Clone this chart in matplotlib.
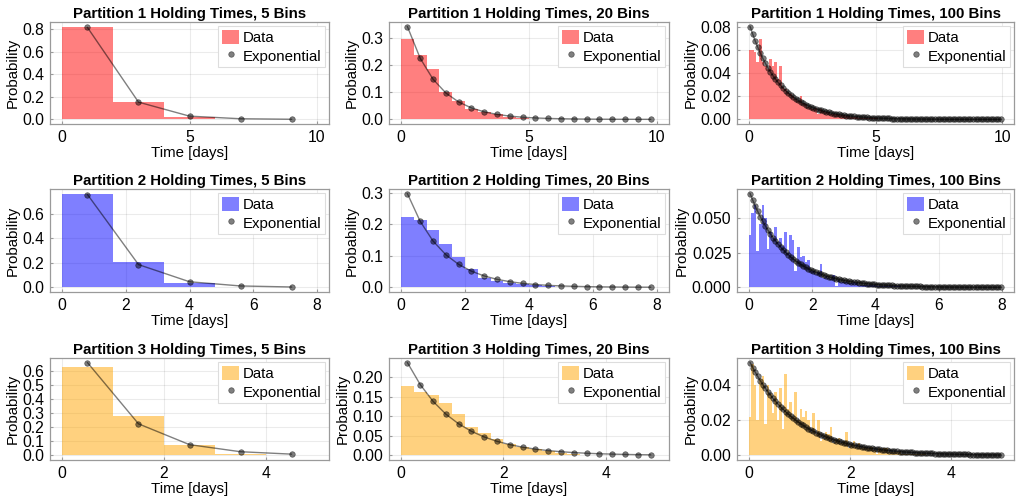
import numpy as np
import matplotlib
matplotlib.use('Agg')
import matplotlib.pyplot as plt

plt.rcParams['font.family'] = ['Liberation Sans', 'DejaVu Sans']

# ---------------- data ----------------
partitions = [1, 2, 3]
bin_counts = [5, 20, 100]
t_max = [10, 8, 5]                     # histogram range upper edge per partition
bar_colors = ['red', 'blue', 'orange']

x_ticks = [[0, 5, 10], [0, 2, 4, 6, 8], [0, 2, 4]]
y_ticks = [
    [[0, 0.2, 0.4, 0.6, 0.8], [0, 0.1, 0.2, 0.3], [0, 0.02, 0.04, 0.06, 0.08]],
    [[0, 0.2, 0.4, 0.6], [0, 0.1, 0.2, 0.3], [0, 0.025, 0.05]],
    [[0, 0.1, 0.2, 0.3, 0.4, 0.5, 0.6], [0, 0.05, 0.10, 0.15, 0.20], [0, 0.02, 0.04]],
]
y_fmt = [["%.1f", "%.1f", "%.2f"], ["%.1f", "%.1f", "%.3f"], ["%.1f", "%.2f", "%.2f"]]

# Partition 1
p1_data_5 = [0.82, 0.153, 0.020, 0.005, 0.001]
p1_exp_5 = [0.8125, 0.1524, 0.0286, 0.0054, 0.0010]
p1_data_20 = [0.295, 0.238, 0.185, 0.100, 0.068, 0.040, 0.027, 0.018, 0.009, 0.006,
              0.003, 0.002, 0.002, 0.0015, 0.001, 0.0005, 0.0005, 0.0003, 0.0002, 0.0]
p1_exp_20 = [0.3420, 0.2250, 0.1481, 0.0974, 0.0641, 0.0422, 0.0278, 0.0183, 0.0120, 0.0079,
             0.0052, 0.0034, 0.0023, 0.0015, 0.0010, 0.0006, 0.0004, 0.0003, 0.0002, 0.0001]
p1_data_100 = [0.060, 0.060, 0.058, 0.050, 0.070, 0.050, 0.046, 0.044, 0.052, 0.046,
               0.050, 0.035, 0.046, 0.028, 0.026, 0.024, 0.022, 0.020, 0.018, 0.016,
               0.020, 0.014, 0.013, 0.011, 0.010, 0.009, 0.010, 0.005, 0.009, 0.007,
               0.006, 0.006, 0.005, 0.005, 0.005, 0.004, 0.004, 0.004, 0.003, 0.003,
               0.002, 0.002, 0.002, 0.0015, 0.0015, 0.0015, 0.0012, 0.0012, 0.0011, 0.001,
               0.0008, 0.0006, 0.0006, 0.0005, 0.0005, 0.0005, 0.0004, 0.0004, 0.0004, 0.0003,
               0.0004, 0.0004, 0.0004, 0.0004, 0.0004, 0.0003, 0.0003, 0.0003, 0.0003, 0.0003,
               0.0002, 0.0002, 0.0002, 0.0002, 0.0002, 0.0001, 0.0001, 0.0001, 0.0001, 0.0001,
               0.0001, 0.0, 0.0001, 0.0, 0.0, 0.0, 0.0, 0.0001, 0.0, 0.0,
               0.0, 0.0, 0.0, 0.0, 0.0, 0.0, 0.0, 0.0, 0.0, 0.0001]
p1_exp_100 = [0.08030, 0.07385, 0.06792, 0.06247, 0.05745, 0.05284, 0.04860, 0.04470, 0.04111, 0.03781,
              0.03477, 0.03198, 0.02941, 0.02705, 0.02488, 0.02288, 0.02104, 0.01935, 0.01780, 0.01637,
              0.01506, 0.01385, 0.01274, 0.01171, 0.01077, 0.00991, 0.00911, 0.00838, 0.00771, 0.00709,
              0.00652, 0.00600, 0.00551, 0.00507, 0.00466, 0.00429, 0.00395, 0.00363, 0.00334, 0.00307,
              0.00282, 0.00260, 0.00239, 0.00220, 0.00202, 0.00186, 0.00171, 0.00157, 0.00144, 0.00133,
              0.00122, 0.00112, 0.00103, 0.00095, 0.00088, 0.00080, 0.00074, 0.00068, 0.00063, 0.00058,
              0.00053, 0.00049, 0.00045, 0.00041, 0.00038, 0.00035, 0.00032, 0.00029, 0.00027, 0.00025,
              0.00023, 0.00021, 0.00019, 0.00018, 0.00016, 0.00015, 0.00014, 0.00013, 0.00012, 0.00011,
              0.00010, 0.00009, 0.00008, 0.00008, 0.00007, 0.00007, 0.00006, 0.00006, 0.00005, 0.00005,
              0.00004, 0.00004, 0.00004, 0.00003, 0.00003, 0.00003, 0.00003, 0.00002, 0.00002, 0.00002]

# Partition 2
p2_data_5 = [0.762, 0.203, 0.033, 0.0015, 0.0005]
p2_exp_5 = [0.7550, 0.1850, 0.0453, 0.0111, 0.0027]
p2_data_20 = [0.224, 0.214, 0.183, 0.138, 0.095, 0.057, 0.031, 0.020, 0.014, 0.009,
              0.006, 0.004, 0.0015, 0.0008, 0.0005, 0.0002, 0.0002, 0.0001, 0.0, 0.0002]
p2_exp_20 = [0.2965, 0.2086, 0.1467, 0.1032, 0.0726, 0.0511, 0.0360, 0.0253, 0.0178, 0.0125,
             0.0088, 0.0062, 0.0044, 0.0031, 0.0022, 0.0015, 0.0011, 0.0007, 0.0005, 0.0004]
p2_data_100 = [0.038, 0.054, 0.060, 0.026, 0.046, 0.060, 0.050, 0.028, 0.040, 0.036,
               0.044, 0.033, 0.036, 0.030, 0.040, 0.025, 0.038, 0.034, 0.012, 0.029,
               0.022, 0.023, 0.018, 0.020, 0.012, 0.012, 0.010, 0.011, 0.017, 0.007,
               0.008, 0.007, 0.006, 0.009, 0.001, 0.005, 0.004, 0.004, 0.004, 0.003,
               0.003, 0.004, 0.003, 0.002, 0.002, 0.002, 0.002, 0.002, 0.0015, 0.0015,
               0.0012, 0.0012, 0.0012, 0.0012, 0.0012, 0.0008, 0.0008, 0.0008, 0.0008, 0.0008,
               0.0003, 0.0003, 0.0003, 0.0003, 0.0003, 0.0002, 0.0002, 0.0002, 0.0001, 0.0001,
               0.0001, 0.0001, 0.0001, 0.0001, 0.0001, 0.0, 0.0001, 0.0, 0.0001, 0.0,
               0.0001, 0.0, 0.0, 0.0001, 0.0, 0.0, 0.0, 0.0, 0.0, 0.0,
               0.0001, 0.0, 0.0, 0.0, 0.0, 0.0, 0.0, 0.0, 0.0001, 0.0001]
p2_exp_100 = [0.06790, 0.06329, 0.05899, 0.05498, 0.05125, 0.04778, 0.04453, 0.04151, 0.03869, 0.03606,
              0.03361, 0.03133, 0.02920, 0.02722, 0.02537, 0.02365, 0.02204, 0.02055, 0.01915, 0.01785,
              0.01664, 0.01551, 0.01446, 0.01347, 0.01256, 0.01171, 0.01091, 0.01017, 0.00948, 0.00884,
              0.00824, 0.00768, 0.00716, 0.00667, 0.00622, 0.00579, 0.00540, 0.00503, 0.00469, 0.00437,
              0.00408, 0.00380, 0.00354, 0.00330, 0.00308, 0.00287, 0.00267, 0.00249, 0.00232, 0.00217,
              0.00202, 0.00188, 0.00175, 0.00163, 0.00152, 0.00142, 0.00132, 0.00123, 0.00115, 0.00107,
              0.00100, 0.00093, 0.00087, 0.00081, 0.00075, 0.00070, 0.00065, 0.00061, 0.00057, 0.00053,
              0.00049, 0.00046, 0.00043, 0.00040, 0.00037, 0.00035, 0.00032, 0.00030, 0.00028, 0.00026,
              0.00024, 0.00023, 0.00021, 0.00020, 0.00018, 0.00017, 0.00016, 0.00015, 0.00014, 0.00013,
              0.00012, 0.00011, 0.00010, 0.00010, 0.00009, 0.00009, 0.00008, 0.00007, 0.00007, 0.00006]

# Partition 3
p3_data_5 = [0.628, 0.280, 0.077, 0.012, 0.003]
p3_exp_5 = [0.6600, 0.2244, 0.0763, 0.0259, 0.0088]
p3_data_20 = [0.177, 0.162, 0.155, 0.134, 0.106, 0.073, 0.057, 0.042, 0.030, 0.021,
              0.016, 0.010, 0.005, 0.003, 0.002, 0.002, 0.001, 0.001, 0.0005, 0.0005]
p3_exp_20 = [0.2364, 0.1805, 0.1378, 0.1052, 0.0804, 0.0614, 0.0469, 0.0358, 0.0273, 0.0209,
             0.0159, 0.0122, 0.0093, 0.0071, 0.0054, 0.0041, 0.0032, 0.0024, 0.0018, 0.0014]
p3_data_100 = [0.022, 0.052, 0.040, 0.020, 0.043, 0.045, 0.018, 0.040, 0.035, 0.024,
               0.036, 0.020, 0.038, 0.015, 0.046, 0.026, 0.030, 0.022, 0.036, 0.020,
               0.026, 0.022, 0.025, 0.020, 0.013, 0.024, 0.012, 0.020, 0.008, 0.009,
               0.013, 0.012, 0.016, 0.007, 0.009, 0.010, 0.007, 0.008, 0.013, 0.004,
               0.006, 0.008, 0.005, 0.007, 0.004, 0.005, 0.004, 0.004, 0.005, 0.003,
               0.001, 0.004, 0.003, 0.004, 0.004, 0.002, 0.002, 0.002, 0.002, 0.002,
               0.001, 0.001, 0.001, 0.001, 0.001, 0.0006, 0.0006, 0.0006, 0.0006, 0.0006,
               0.0004, 0.0004, 0.0004, 0.0004, 0.0004, 0.0004, 0.0004, 0.0004, 0.0004, 0.0004,
               0.0002, 0.0002, 0.0002, 0.0002, 0.0002, 0.0002, 0.0002, 0.0002, 0.0002, 0.0002,
               0.0001, 0.0001, 0.0001, 0.0001, 0.0001, 0.0001, 0.0001, 0.0001, 0.0001, 0.0001]
p3_exp_100 = [0.05250, 0.04974, 0.04713, 0.04466, 0.04231, 0.04009, 0.03798, 0.03599, 0.03410, 0.03231,
              0.03061, 0.02900, 0.02748, 0.02604, 0.02467, 0.02337, 0.02215, 0.02098, 0.01988, 0.01884,
              0.01785, 0.01691, 0.01602, 0.01518, 0.01438, 0.01363, 0.01291, 0.01223, 0.01159, 0.01098,
              0.01041, 0.00986, 0.00934, 0.00885, 0.00839, 0.00794, 0.00753, 0.00713, 0.00676, 0.00640,
              0.00607, 0.00575, 0.00545, 0.00516, 0.00489, 0.00463, 0.00439, 0.00416, 0.00394, 0.00373,
              0.00354, 0.00335, 0.00318, 0.00301, 0.00285, 0.00270, 0.00256, 0.00243, 0.00230, 0.00218,
              0.00206, 0.00195, 0.00185, 0.00175, 0.00166, 0.00158, 0.00149, 0.00141, 0.00134, 0.00127,
              0.00120, 0.00114, 0.00108, 0.00102, 0.00097, 0.00092, 0.00087, 0.00082, 0.00078, 0.00074,
              0.00070, 0.00066, 0.00063, 0.00060, 0.00056, 0.00054, 0.00051, 0.00048, 0.00046, 0.00043,
              0.00041, 0.00039, 0.00037, 0.00035, 0.00033, 0.00031, 0.00030, 0.00028, 0.00026, 0.00025]

data_hist = [[p1_data_5, p1_data_20, p1_data_100],
             [p2_data_5, p2_data_20, p2_data_100],
             [p3_data_5, p3_data_20, p3_data_100]]
exp_vals = [[p1_exp_5, p1_exp_20, p1_exp_100],
            [p2_exp_5, p2_exp_20, p2_exp_100],
            [p3_exp_5, p3_exp_20, p3_exp_100]]

# ---------------- layout (pixels) ----------------
W, H = 1022, 500
col_left = [50, 389, 737]
col_right = [329, 669, 1014]
row_top = [22, 189, 358]
row_bottom = [124, 292, 460]

fig = plt.figure(figsize=(W / 100, H / 100), dpi=100)
fs = 10.8
frame_col = '#9a9a9a'

for i in range(3):
    for j in range(3):
        l, r = col_left[j], col_right[j]
        t, b = row_top[i], row_bottom[i]
        ax = fig.add_axes([l / W, 1 - b / H, (r - l) / W, (b - t) / H])
        n = bin_counts[j]
        edges = np.linspace(0, t_max[i], n + 1)
        centers = (edges[:-1] + edges[1:]) / 2
        widths = np.diff(edges)
        bars = ax.bar(edges[:-1], data_hist[i][j], width=widths, align='edge',
                      color=bar_colors[i], alpha=0.5, linewidth=0, label='Data', zorder=2)
        ax.plot(centers, exp_vals[i][j], color='black', alpha=0.5, lw=1.0, zorder=3)
        pts, = ax.plot(centers, exp_vals[i][j], linestyle='none', marker='o', markersize=4,
                       markerfacecolor='black', markeredgecolor='black', markeredgewidth=0.5,
                       alpha=0.5, label='Exponential', zorder=4)
        ax.use_sticky_edges = False
        ax.margins(x=0.047, y=0.05)
        ax.set_xticks(x_ticks[i])
        ax.set_yticks(y_ticks[i][j])
        ax.yaxis.set_major_formatter(matplotlib.ticker.FormatStrFormatter(y_fmt[i][j]))
        ax.grid(True, color='black', alpha=0.08, lw=0.8, zorder=0)
        ax.set_axisbelow(True)
        for s in ax.spines.values():
            s.set_color(frame_col)
            s.set_linewidth(0.9)
        ax.tick_params(axis='both', labelsize=fs + 0.5, length=2.5, direction='in',
                       color=frame_col, pad=4)
        ax.set_title(f'Partition {partitions[i]} Holding Times, {n} Bins',
                     fontsize=fs, fontweight='bold', pad=3)
        ax.set_xlabel('Time [days]', fontsize=fs, labelpad=1)
        ax.set_ylabel('Probability', fontsize=fs, labelpad=2)
        leg = ax.legend([bars, pts], ['Data', 'Exponential'], loc='upper right',
                        fontsize=fs, frameon=True, fancybox=False,
                        edgecolor='#dddddd', framealpha=1.0, numpoints=1,
                        handlelength=1.15, handleheight=1.15, handletextpad=0.25,
                        labelspacing=0.2, borderpad=0.25, borderaxespad=0.25)
        leg.get_frame().set_linewidth(0.8)

fig.savefig('out.png', dpi=100)
